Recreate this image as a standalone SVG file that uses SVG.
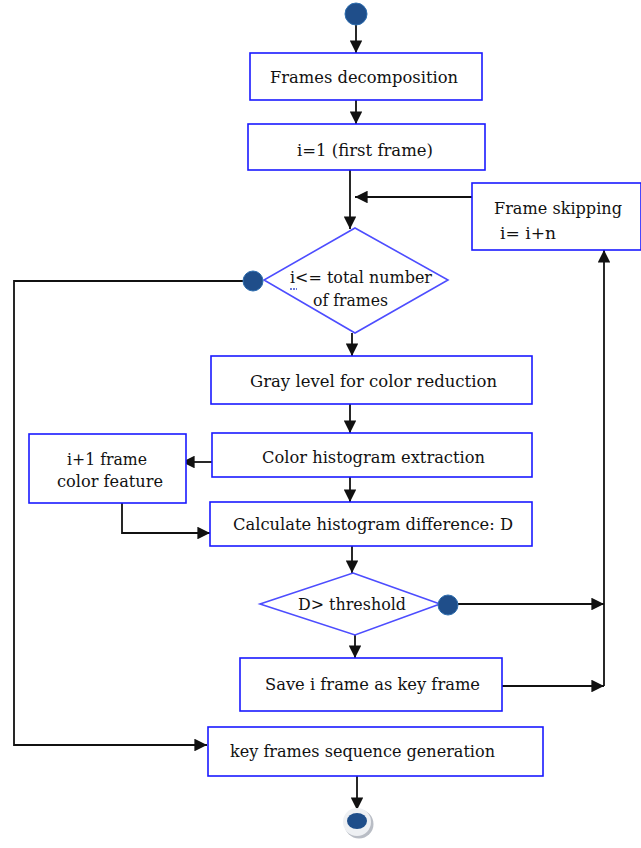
<svg xmlns="http://www.w3.org/2000/svg" width="641" height="848" viewBox="0 0 641 848">
  <style>
    .box { fill: #ffffff; stroke: #1a1aff; stroke-width: 1.6; }
    .dia { fill: #ffffff; stroke: #4d4dff; stroke-width: 1.6; }
    .lbl { font-family: "DejaVu Serif", "Liberation Serif", "Noto Serif", serif; font-size: 17.5px; fill: #111111; }
    .wire { fill: none; stroke: #111111; stroke-width: 1.8; }
    .dot { fill: #1f4e8a; stroke: #2f6fb0; stroke-width: 1; }
  </style>
  <defs>
    <marker id="arr" viewBox="0 0 10 10" refX="10" refY="5" markerWidth="7" markerHeight="7" markerUnits="strokeWidth" orient="auto">
      <path d="M0,0 L10,5 L0,10 z" fill="#111111"/>
    </marker>
  </defs>

  <rect width="641" height="848" fill="#ffffff"/>

  <!-- connectors -->
  <g id="connectors">
    <path class="wire" d="M356,24 V53" marker-end="url(#arr)"/>
    <path class="wire" d="M356,100 V124" marker-end="url(#arr)"/>
    <path class="wire" d="M350,170 V229" marker-end="url(#arr)"/>
    <path class="wire" d="M472,197 H355" marker-end="url(#arr)"/>
    <path class="wire" d="M243,281 H14 V745 H207" marker-end="url(#arr)"/>
    <path class="wire" d="M352,333 V356" marker-end="url(#arr)"/>
    <path class="wire" d="M350,404 V433" marker-end="url(#arr)"/>
    <path class="wire" d="M212,462 H182" marker-end="url(#arr)"/>
    <path class="wire" d="M122,503 V533 H210" marker-end="url(#arr)"/>
    <path class="wire" d="M350,477 V502" marker-end="url(#arr)"/>
    <path class="wire" d="M352,546 V573" marker-end="url(#arr)"/>
    <path class="wire" d="M458,604 H604" marker-end="url(#arr)"/>
    <path class="wire" d="M355,635 V658" marker-end="url(#arr)"/>
    <path class="wire" d="M502,686 H604" marker-end="url(#arr)"/>
    <path class="wire" d="M604,686 V250" marker-end="url(#arr)"/>
    <path class="wire" d="M357,776 V810" marker-end="url(#arr)"/>
  </g>

  <!-- start point -->
  <g id="start">
    <circle class="dot" cx="356" cy="14" r="11"/>
  </g>

  <g id="frames-decomposition">
    <rect class="box" x="250" y="53" width="232" height="47"/>
    <text class="lbl" x="270" y="83" textLength="188" lengthAdjust="spacingAndGlyphs">Frames decomposition</text>
  </g>

  <g id="first-frame">
    <rect class="box" x="248" y="124" width="237" height="46"/>
    <text class="lbl" x="297" y="156" textLength="136" lengthAdjust="spacingAndGlyphs">i=1 (first frame)</text>
  </g>

  <g id="frame-skipping">
    <rect class="box" x="472" y="183" width="169" height="67"/>
    <text class="lbl" x="494" y="214" textLength="128" lengthAdjust="spacingAndGlyphs">Frame skipping</text>
    <text class="lbl" x="500" y="239" textLength="56" lengthAdjust="spacingAndGlyphs">i= i+n</text>
  </g>

  <g id="loop-condition">
    <polygon class="dia" points="355,228 448,280 355,333 264,280"/>
    <text class="lbl" x="290" y="283" textLength="142" lengthAdjust="spacingAndGlyphs">i&lt;= total number</text>
    <text class="lbl" x="313" y="306" textLength="75" lengthAdjust="spacingAndGlyphs">of frames</text>
    <!-- dotted underline beneath the loop variable -->
    <path d="M290,289 H297" stroke="#3a4fd0" stroke-width="1.5" stroke-dasharray="2,1"/>
    <circle class="dot" cx="253" cy="281" r="10"/>
  </g>

  <g id="gray-level">
    <rect class="box" x="211" y="356" width="321" height="48"/>
    <text class="lbl" x="250" y="387" textLength="247" lengthAdjust="spacingAndGlyphs">Gray level for color reduction</text>
  </g>

  <g id="color-histogram">
    <rect class="box" x="212" y="433" width="320" height="44"/>
    <text class="lbl" x="262" y="463" textLength="223" lengthAdjust="spacingAndGlyphs">Color histogram extraction</text>
  </g>

  <g id="next-frame-feature">
    <rect class="box" x="29" y="434" width="157" height="69"/>
    <text class="lbl" x="67" y="465" textLength="80" lengthAdjust="spacingAndGlyphs">i+1 frame</text>
    <text class="lbl" x="57" y="487" textLength="106" lengthAdjust="spacingAndGlyphs">color feature</text>
  </g>

  <g id="histogram-difference">
    <rect class="box" x="210" y="502" width="322" height="44"/>
    <text class="lbl" x="233" y="530" textLength="280" lengthAdjust="spacingAndGlyphs">Calculate histogram difference: D</text>
  </g>

  <g id="threshold-check">
    <polygon class="dia" points="353,573 440,604 355,635 260,604"/>
    <text class="lbl" x="298" y="610" textLength="108" lengthAdjust="spacingAndGlyphs">D&gt; threshold</text>
    <circle class="dot" cx="448" cy="605" r="10"/>
  </g>

  <g id="save-key-frame">
    <rect class="box" x="240" y="658" width="262" height="53"/>
    <text class="lbl" x="265" y="690" textLength="215" lengthAdjust="spacingAndGlyphs">Save i frame as key frame</text>
  </g>

  <g id="sequence-generation">
    <rect class="box" x="208" y="727" width="335" height="49"/>
    <text class="lbl" x="230" y="757" textLength="265" lengthAdjust="spacingAndGlyphs">key frames sequence generation</text>
  </g>

  <!-- end point -->
  <g id="end">
    <circle cx="359" cy="824" r="14.5" fill="#b9bdc5"/>
    <circle cx="357" cy="822" r="14" fill="#eef0f3"/>
    <ellipse cx="357" cy="821" rx="10" ry="8" fill="#1f4e8a"/>
  </g>
</svg>
